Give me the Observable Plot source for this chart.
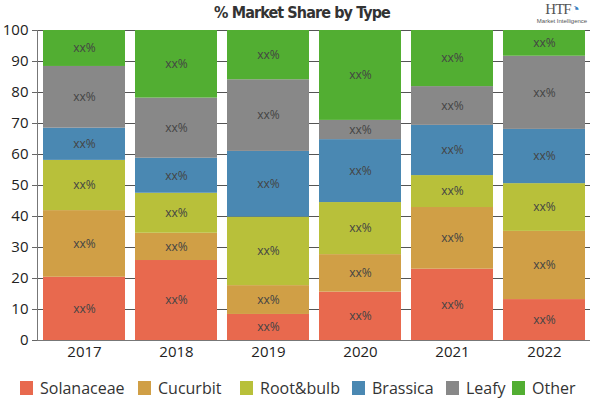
<!DOCTYPE html>
<html>
<head>
<meta charset="utf-8">
<script src="https://cdn.jsdelivr.net/npm/d3@7"></script>
<script src="https://cdn.jsdelivr.net/npm/@observablehq/plot@0.6"></script>
<style>
  body { margin: 0; background: #fff; font-family: "Open Sans", "Noto Sans", sans-serif; }
  #wrap { position: relative; width: 600px; height: 400px; overflow: hidden; }
  #title { position: absolute; left: 0; top: 3px; width: 604px; text-align: center;
    font-family: "DejaVu Sans Condensed", "DejaVu Sans", sans-serif; font-stretch: condensed;
    font-weight: bold; font-size: 16px; color: #333; letter-spacing: -0.9px; }
  #logo { position: absolute; left: 527px; top: 0px; width: 70px; text-align: center; color: #555; }
  #logo .h { font-family: "Liberation Serif", serif; font-size: 15px; line-height: 18px; letter-spacing: -1px; }
  #logo .m { font-family: "Liberation Sans Narrow", "Liberation Sans", sans-serif; font-size: 6px; line-height: 7px; }
  #chart { position: absolute; left: 0; top: 14px; }
  #chart svg { overflow: visible; }
  #legend { position: absolute; left: 0; top: 377px; width: 600px; height: 22px; }
  .item { position: absolute; top: 0; display: flex; align-items: center; font-size: 16px; color: #333; }
  .sw { width: 13px; height: 14px; margin-right: 7px; }
</style>
</head>
<body>
<div id="wrap">
  <div id="title">% Market Share by Type</div>
  <div id="logo"><div class="h">HTF<span style="color:#3a7fc0">&#x25D4;</span></div><div class="m">Market Intelligence</div></div>
  <div id="chart"></div>
  <div id="legend"></div>
</div>
<script>
const years = ["2017", "2018", "2019", "2020", "2021", "2022"];
const types = ["Solanaceae", "Cucurbit", "Root&bulb", "Brassica", "Leafy", "Other"];
const colors = ["#E8694E", "#D09F46", "#B8C03A", "#4A88B2", "#888888", "#52AE32"];
const solanaceae = [20.4, 25.8, 8.4, 15.6, 23.0, 13.2];
const cucurbit   = [21.5, 8.8, 9.3, 12.1, 19.9, 22.0];
const rootbulb   = [16.2, 12.9, 22.1, 16.8, 10.3, 15.4];
const brassica   = [10.4, 11.3, 21.2, 20.3, 16.2, 17.5];
const leafy      = [19.9, 19.4, 23.1, 6.2, 12.5, 23.6];
const other      = [11.6, 21.8, 15.9, 29.0, 18.1, 8.3];
const yTicks = [0, 10, 20, 30, 40, 50, 60, 70, 80, 90, 100];
const series = [solanaceae, cucurbit, rootbulb, brassica, leafy, other];

const data = [];
years.forEach((yr, i) => {
  types.forEach((t, j) => data.push({year: yr, type: t, value: series[j][i]}));
});

const chart = Plot.plot({
  width: 600,
  height: 351,
  marginTop: 16,
  marginBottom: 25,
  marginLeft: 37,
  marginRight: 10,
  style: {fontFamily: "'Open Sans', 'Noto Sans', sans-serif", fontSize: "15px", color: "#222", background: "transparent"},
  x: {domain: years, paddingInner: 0.109, paddingOuter: 0.05, label: null},
  y: {domain: [0, 100], ticks: yTicks, label: null},
  color: {domain: types, range: colors},
  marks: [
    Plot.ruleY(yTicks, {stroke: "#555", strokeWidth: 1}),
    Plot.barY(data, {x: "year", y: "value", fill: "type", z: "type"}),
    Plot.text(data, Plot.stackY({x: "year", y: "value", z: "type", text: () => "xx%", fill: "#444", fontSize: 12, fontFamily: "'Open Sans', sans-serif"})),
    Plot.axisX({tickSize: 0, tickPadding: 6, fontSize: 15, color: "#222"}),
    Plot.axisY({ticks: yTicks, tickSize: 5, stroke: "#666", fontSize: 15, fill: "#222"}),
    Plot.ruleY([0], {stroke: "#777"}),
    Plot.frame({anchor: "left", stroke: "#777"})
  ]
});
document.getElementById("chart").appendChild(chart);

const legendX = [20, 138, 240, 352, 446, 512];
const lg = document.getElementById("legend");
types.forEach((t, i) => {
  const it = document.createElement("div");
  it.className = "item";
  it.style.left = legendX[i] + "px";
  const sw = document.createElement("div");
  sw.className = "sw";
  sw.style.background = colors[i];
  const lb = document.createElement("span");
  lb.textContent = t;
  it.appendChild(sw); it.appendChild(lb);
  lg.appendChild(it);
});
</script>
</body>
</html>
